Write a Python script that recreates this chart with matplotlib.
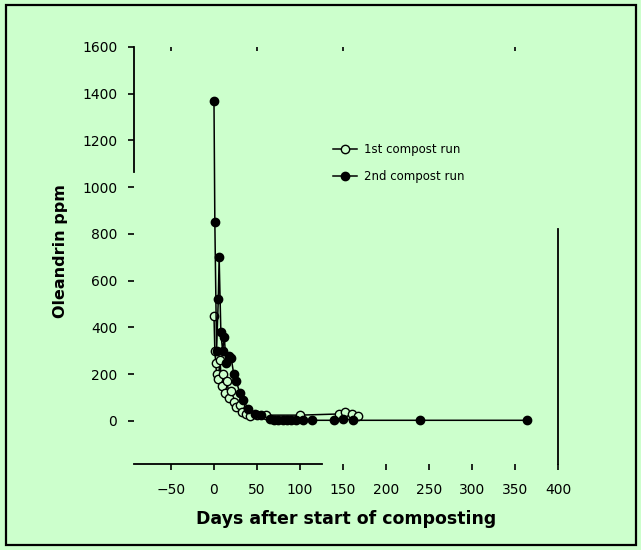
import matplotlib
matplotlib.use('Agg')
import matplotlib.pyplot as plt
from matplotlib.patches import Rectangle

# Oleandrin concentration during composting
run1_days = [0, 1, 2, 3, 5, 7, 9, 11, 13, 15, 18, 20, 23, 26, 30, 33, 37, 42, 50, 60, 100, 145, 152, 160, 167]
run1_ppm  = [450, 300, 250, 200, 180, 260, 150, 200, 120, 170, 100, 130, 80, 60, 70, 40, 30, 20, 25, 25, 25, 30, 40, 30, 20]

run2_days = [0, 1, 3, 5, 6, 8, 10, 12, 14, 17, 20, 23, 26, 30, 34, 40, 48, 55, 65, 70, 75, 80, 85, 90, 95, 104, 114, 139, 150, 162, 240, 364]
run2_ppm  = [1370, 850, 300, 520, 700, 380, 300, 360, 250, 280, 270, 200, 170, 120, 90, 50, 30, 25, 8, 3, 5, 3, 5, 3, 5, 3, 3, 3, 10, 3, 3, 3]

legend_labels = ['1st compost run', '2nd compost run']
x_ticks = [-50, 0, 50, 100, 150, 200, 250, 300, 350, 400]
y_ticks = [0, 200, 400, 600, 800, 1000, 1200, 1400, 1600]

BG = '#ccffcc'

fig = plt.figure(figsize=(6.41, 5.50), dpi=100, facecolor=BG)
ax = fig.add_axes([134/641, 1-464/550, 424/641, 417/550])
ax.set_facecolor(BG)

ax.plot(run1_days, run1_ppm, color='black', lw=1.1, marker='o', ms=6,
        mfc=BG, mec='black', mew=1.0, label=legend_labels[0])
ax.plot(run2_days, run2_ppm, color='black', lw=1.1, marker='o', ms=6,
        mfc='black', mec='black', label=legend_labels[1])

ax.set_xlim(-93, 400)
ax.set_ylim(-184, 1600)
ax.set_xticks(x_ticks)
ax.set_yticks(y_ticks)

# the scanned frame is broken in places
ax.spines['top'].set_visible(False)
ax.spines['left'].set_bounds(1065, 1600)
ax.spines['bottom'].set_bounds(-93, 126)
ax.spines['right'].set_bounds(-184, 820)
for s in ['left', 'bottom', 'right']:
    ax.spines[s].set_linewidth(1.3)

ax.tick_params(axis='y', direction='out', length=4, width=1.2, pad=8, labelsize=10)
ax.tick_params(axis='x', direction='out', length=4, width=1.2, pad=10, labelsize=10)

top = ax.secondary_xaxis('top')
top.set_xticks([-50, 50, 150, 350])
top.tick_params(direction='in', length=3, width=1.2, labeltop=False)
top.spines['top'].set_visible(False)

ax.set_xlabel('Days after start of composting', fontsize=12.5, fontweight='bold')
ax.xaxis.set_label_coords(0.5, -0.11)
ax.set_ylabel('Oleandrin ppm', fontsize=11.5, fontweight='bold')
ax.yaxis.set_label_coords(-0.155, 0.51)

ax.legend(loc='upper left', bbox_to_anchor=(0.445, 0.795), frameon=False,
          fontsize=8.5, handlelength=2.0, handletextpad=0.6, labelspacing=1.2)

fig.patches.append(Rectangle((6/641, 5/550), 630/641, 540/550, transform=fig.transFigure,
                             fill=False, edgecolor='black', lw=1.6))

fig.savefig('out.png', dpi=100, facecolor=BG)
